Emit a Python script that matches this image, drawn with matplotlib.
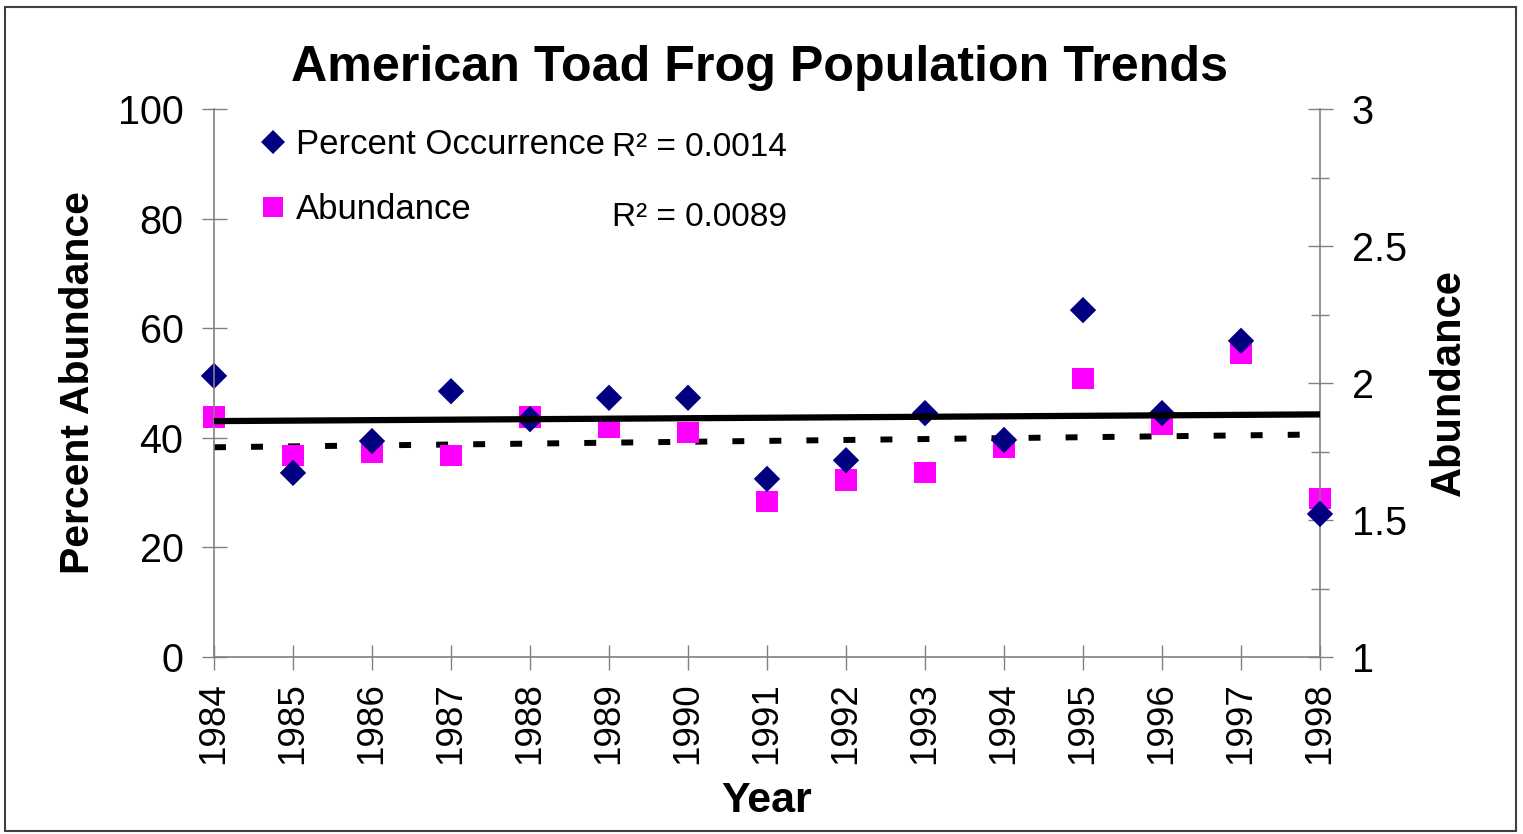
import numpy as np
import matplotlib
matplotlib.use("Agg")
import matplotlib.pyplot as plt
from matplotlib.lines import Line2D
from matplotlib.patches import Rectangle

plt.rcParams['font.family'] = ['Liberation Sans', 'DejaVu Sans']

# data
years = [1984, 1985, 1986, 1987, 1988, 1989, 1990, 1991, 1992, 1993, 1994, 1995, 1996, 1997, 1998]
pct_occurrence = [51.3, 33.6, 39.4, 48.5, 43.4, 47.3, 47.3, 32.5, 35.9, 44.5, 39.6, 63.3, 44.5, 57.7, 26.1]
abundance = [1.876, 1.734, 1.748, 1.737, 1.876, 1.839, 1.821, 1.569, 1.646, 1.672, 1.763, 2.015, 1.850, 2.106, 1.580]
r2_labels = ['R\u00b2 = 0.0014', 'R\u00b2 = 0.0089']

gray = '#808080'
navy = '#000080'
magenta = '#FF00FF'

fig = plt.figure(figsize=(15.23, 8.34), dpi=100)
ax = fig.add_axes([214 / 1523, 1 - 657 / 834, (1320 - 214) / 1523, (657 - 109) / 834])
ax2 = ax.twinx()

x = np.array(years)

# trend lines (linear fits)
p1 = np.polyfit(x, pct_occurrence, 1)
p2 = np.polyfit(x, abundance, 1)
xs = np.array([years[0], years[-1]])
ax.plot(xs, np.polyval(p1, xs), color='black', lw=4.5, solid_capstyle='round', zorder=3)
ax2.plot(xs, np.polyval(p2, xs), color='black', lw=4.3, dashes=(2, 4.2), dash_capstyle='butt', zorder=1)

ax.scatter(x, pct_occurrence, marker='D', s=180, color=navy, edgecolors='none', zorder=2, clip_on=False)
ax2.scatter(x, abundance, marker='s', s=230, color=magenta, edgecolors='none', zorder=2, clip_on=False)

ax.set_zorder(ax2.get_zorder() + 1)
ax.patch.set_visible(False)

ax.set_xlim(1984, 1998)
ax.set_ylim(0, 100)
ax2.set_ylim(1, 3)
ax.set_xticks(years)
ax.set_xticklabels([str(y) for y in years], rotation=90, fontsize=26.5)
ax.set_yticks(range(0, 101, 20))
ax.tick_params(axis='y', labelsize=28.5, direction='inout', length=18, width=1, color=gray, pad=13)
ax.tick_params(axis='x', direction='inout', length=18, width=1, color=gray, pad=9)
ax2.set_yticks([1, 1.5, 2, 2.5, 3])
ax2.set_yticklabels(['1', '1.5', '2', '2.5', '3'])
ax2.set_yticks([1.25, 1.75, 2.25, 2.75], minor=True)
ax2.tick_params(axis='y', which='major', labelsize=28.5, direction='inout', length=18, width=1, color=gray, pad=14)
ax2.tick_params(axis='y', which='minor', direction='inout', length=13, width=1, color=gray)

for a in (ax, ax2):
    a.spines['top'].set_visible(False)
    for s in ('left', 'right', 'bottom'):
        a.spines[s].set_color(gray)
        a.spines[s].set_linewidth(1.2)
ax.spines['right'].set_visible(False)
ax2.spines['left'].set_visible(False)
ax2.spines['bottom'].set_visible(False)

ax.set_ylabel('Percent Abundance', fontsize=29.5, fontweight='bold', labelpad=15)
ax2.set_ylabel('Abundance', fontsize=30, fontweight='bold', rotation=90, labelpad=16)
ax.set_xlabel('Year', fontsize=31, fontweight='bold', labelpad=12)

fig.text(760 / 1523, 1 - 68 / 834, 'American Toad Frog Population Trends',
         ha='center', va='center', fontsize=36.2, fontweight='bold')

handles = [Line2D([], [], marker='D', ls='none', color=navy, markersize=12.5, markeredgewidth=0),
           Line2D([], [], marker='s', ls='none', color=magenta, markersize=15, markeredgewidth=0)]
ax.legend(handles, ['Percent Occurrence', 'Abundance'], loc='upper left',
          bbox_to_anchor=(238 / 1523, 1 - 111 / 834), bbox_transform=fig.transFigure,
          frameon=False, fontsize=25, handletextpad=0.17, labelspacing=0.92,
          handlelength=1.0, borderpad=0)

fig.text(612 / 1523, 1 - 148 / 834, r2_labels[0], ha='left', va='center', fontsize=24)
fig.text(612 / 1523, 1 - 217 / 834, r2_labels[1], ha='left', va='center', fontsize=24)

fig.patches.append(Rectangle((5 / 1523, 3 / 834), 1511 / 1523, 824 / 834, transform=fig.transFigure,
                             fill=False, edgecolor='#404040', lw=1.5))

fig.savefig('out.png', dpi=100)
